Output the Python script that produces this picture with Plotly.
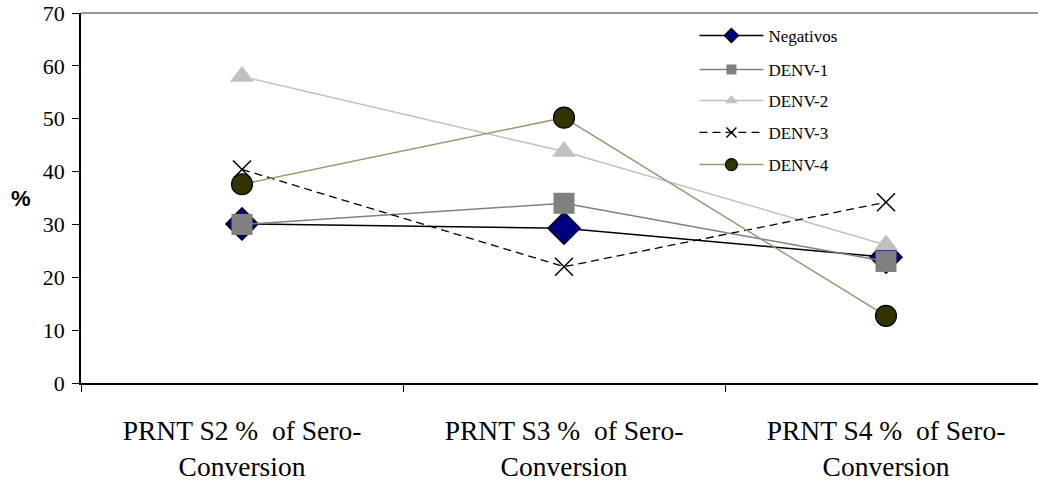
import plotly.graph_objects as go

categories = ["PRNT S2 %\u00a0 of Sero-<br>Conversion",
              "PRNT S3 %\u00a0 of Sero-<br>Conversion",
              "PRNT S4 %\u00a0 of Sero-<br>Conversion"]
series_names = ["Negativos", "DENV-1", "DENV-2", "DENV-3", "DENV-4"]
negativos = [30.1, 29.3, 23.8]
denv1 = [30.0, 34.0, 23.0]
denv2 = [58.0, 43.8, 26.1]
denv3 = [40.4, 22.0, 34.2]
denv4 = [37.6, 50.2, 12.7]
y_ticks = [0, 10, 20, 30, 40, 50, 60, 70]

values = [negativos, denv1, denv2, denv3, denv4]
lines = [
    dict(color="#000000", width=1.5),
    dict(color="#808080", width=1.5),
    dict(color="#C0C0C0", width=1.5),
    dict(color="#000000", width=1.3, dash="8px,5px"),
    dict(color="#999973", width=1.5),
]
markers = [
    dict(symbol="diamond", color="#000080", line=dict(color="#000000", width=1.2)),
    dict(symbol="square", color="#808080", line=dict(color="#808080", width=0)),
    dict(symbol="triangle-up", color="#C0C0C0", line=dict(color="#C0C0C0", width=0)),
    dict(symbol="x-thin", color="#000000", line=dict(color="#000000", width=1.5)),
    dict(symbol="circle", color="#333300", line=dict(color="#000000", width=1.2)),
]
plot_sizes = [25, 21, 21, 18, 21]
legend_sizes = [11, 10, 11, 10, 12]

legend_ids = ["legend", "legend2", "legend3", "legend4", "legend5"]
legend_y = [0.938, 0.846, 0.762, 0.676, 0.589]

fig = go.Figure()
for name, vals, ln, mk, ps in zip(series_names, values, lines, markers, plot_sizes):
    fig.add_trace(go.Scatter(x=categories, y=vals, name=name, mode="lines+markers",
                             line=ln, marker=dict(mk, size=ps), showlegend=False))
# legend entries (no data drawn)
for name, ln, mk, ls, lid in zip(series_names, lines, markers, legend_sizes, legend_ids):
    fig.add_trace(go.Scatter(x=[None], y=[None], name=name, mode="lines+markers",
                             line=ln, marker=dict(mk, size=ls), legend=lid,
                             showlegend=True, hoverinfo="skip"))

legend_common = dict(x=0.641, xanchor="left", yanchor="middle",
                     bgcolor="rgba(0,0,0,0)", borderwidth=0,
                     font=dict(family="Liberation Serif", size=17, color="#000000"),
                     itemsizing="trace", itemwidth=64)
layout_legends = {}
for lid, yy in zip(legend_ids, legend_y):
    layout_legends[lid] = dict(legend_common, y=yy)

fig.update_layout(
    width=1038, height=488,
    margin=dict(l=81, r=0, t=13, b=105),
    paper_bgcolor="white", plot_bgcolor="white",
    showlegend=True,
    **layout_legends,
    xaxis=dict(type="category", range=[-0.5, 2.472], showgrid=False,
               showline=True, linecolor="#000000", linewidth=1.5,
               ticks="outside", tickson="boundaries", ticklen=7, tickcolor="#000000",
               tickfont=dict(family="Liberation Serif", size=27.5, color="#000000"),
               ticklabelstandoff=22, zeroline=False),
    yaxis=dict(range=[0, 70], tickvals=y_ticks, showgrid=False,
               showline=True, linecolor="#000000", linewidth=1.5,
               ticks="outside", ticklen=7, tickcolor="#000000",
               tickfont=dict(family="Liberation Serif", size=22, color="#000000"),
               ticklabelstandoff=3, zeroline=False),
    shapes=[dict(type="line", xref="paper", yref="paper", x0=0, x1=1, y0=1, y1=1,
                 line=dict(color="#999999", width=2))],
    annotations=[dict(text="<b>%</b>", xref="paper", yref="paper", x=-0.063, y=0.5,
                      xanchor="center", yanchor="middle", showarrow=False,
                      font=dict(family="Liberation Sans", size=22, color="#000000"))],
)

fig.write_html("out.html")
